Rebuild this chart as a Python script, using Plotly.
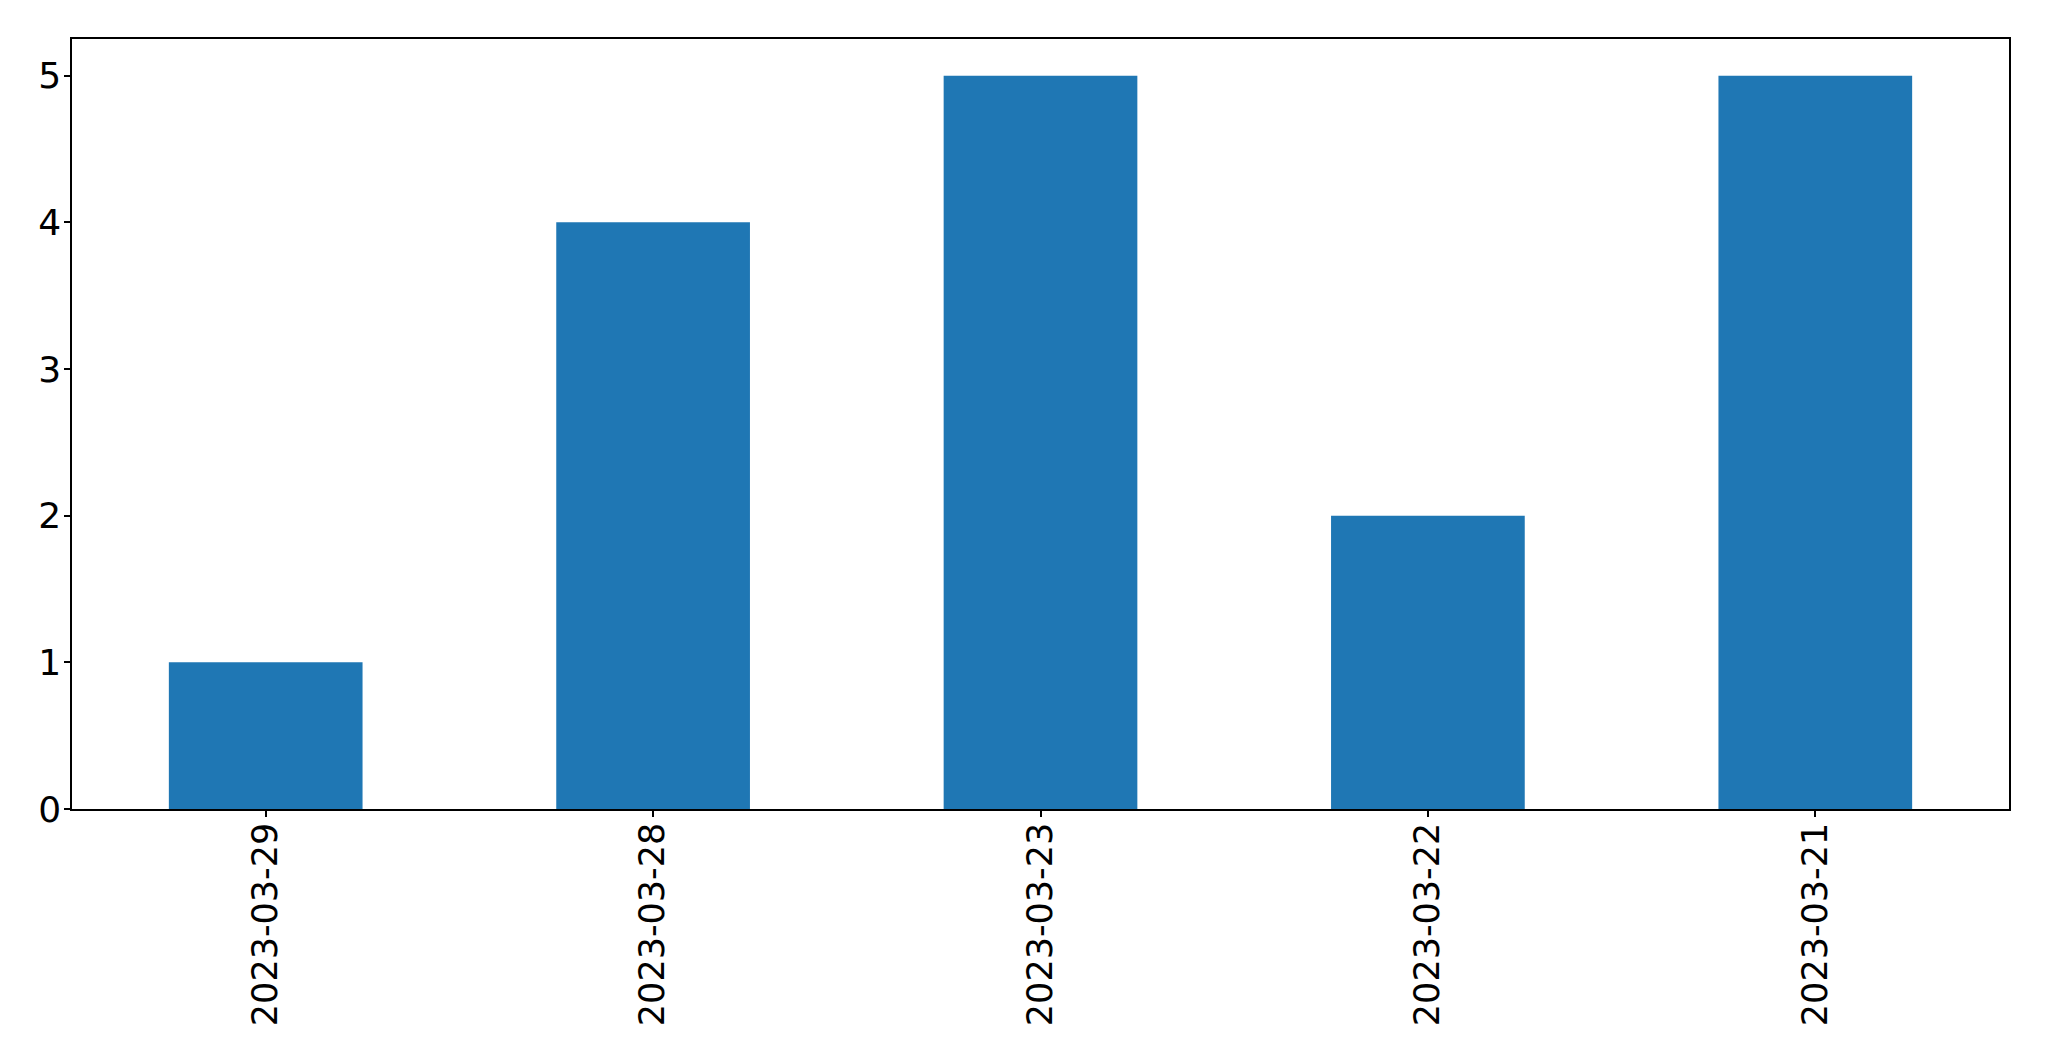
import plotly.graph_objects as go

dates = ["2023-03-29", "2023-03-28", "2023-03-23", "2023-03-22", "2023-03-21"]
counts = [1, 4, 5, 2, 5]
y_ticks = [0, 1, 2, 3, 4, 5]

fig = go.Figure(go.Bar(x=dates, y=counts, marker_color="#1f77b4", marker_line_width=0, width=0.5))

axis_common = dict(
    showline=True, linecolor="black", linewidth=1.5, mirror=True,
    ticks="outside", ticklen=6, tickwidth=1.5, tickcolor="black",
    showgrid=False, zeroline=False,
)

fig.update_layout(
    width=2049, height=1061,
    margin=dict(l=72, r=40, t=39, b=252, pad=0),
    plot_bgcolor="white", paper_bgcolor="white",
    showlegend=False,
    bargap=0.5,
)
fig.update_xaxes(type="category", range=[-0.5, 4.5], tickangle=-90, ticklabelstandoff=-8,
                 tickfont=dict(family="DejaVu Sans", size=35, color="black"), **axis_common)
fig.update_yaxes(range=[0, 5.25], tickvals=y_ticks, ticklabelstandoff=-4,
                 tickfont=dict(family="DejaVu Sans", size=36, color="black"), **axis_common)

fig.write_html(
    "out.html",
    config={"displayModeBar": False},
    post_script="document.body.style.margin='0';document.body.style.overflow='hidden';",
)
